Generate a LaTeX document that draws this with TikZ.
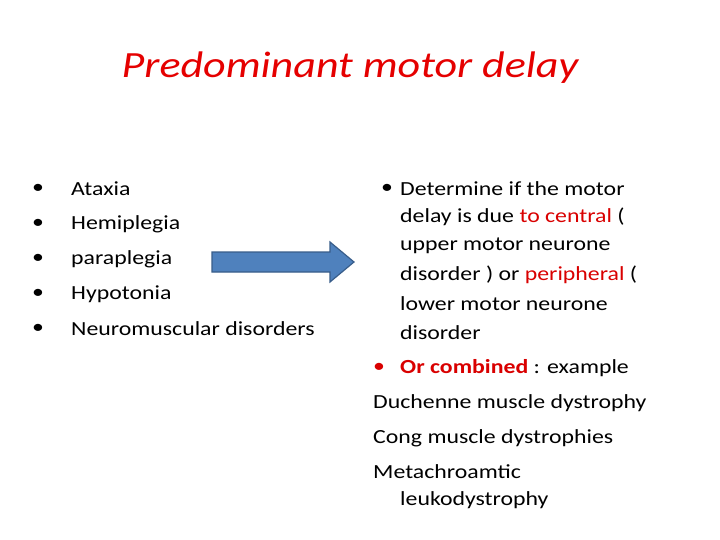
\documentclass[tikz,border=0pt]{standalone}
\usepackage{fontspec}
\setmainfont{Carlito}[FakeStretch=1.19]
\begin{document}
\begin{tikzpicture}[x=1pt,y=-1pt,
  txt/.style={anchor=west,inner sep=0pt,font=\fontsize{20}{24}\selectfont},
  red/.style={text=red!85!black}]
\useasboundingbox[fill=white] (0,0) rectangle (720,540);
\node[anchor=center,text=red!90!black,font=\fontsize{37}{44}\selectfont\itshape] (title) at (350,68) {Predominant motor delay};
\foreach \t/\y [count=\i] in {Ataxia/189,Hemiplegia/224,paraplegia/259,Hypotonia/294,Neuromuscular disorders/329}{
  \node[txt] (b\i) at (32,\y) {•};
  \node[txt] (l\i) at (71,\y) {\t};
}
\draw[fill={rgb,255:red,79;green,129;blue,189},draw={rgb,255:red,56;green,93;blue,138},line width=1.2pt]
  (212,252) -- (330,252) -- (330,242) -- (354,262) -- (330,282) -- (330,272) -- (212,272) -- cycle;
\node[txt] (rb) at (381,189) {•};
\node[txt] (r1) at (400,189) {Determine if the motor};
\node[txt] (r2) at (400,217) {delay is due \textcolor{red!85!black}{to central} (};
\node[txt] (r3) at (400,246) {upper motor neurone};
\node[txt] (r4) at (400,275) {disorder ) or \textcolor{red!85!black}{peripheral} (};
\node[txt] (r5) at (400,304) {lower motor neurone};
\node[txt] (r6) at (400,333) {disorder};
\node[txt,red] (rb2) at (373,368) {•};
\node[txt] (r7) at (400,368) {\textcolor{red!85!black}{\bfseries Or combined} : example};
\node[txt] (r8) at (373,403) {Duchenne muscle dystrophy};
\node[txt] (r9) at (373,438) {Cong muscle dystrophies};
\node[txt] (r10) at (373,472) {Metachroamtic};
\node[txt] (r11) at (400,500) {leukodystrophy};
\end{tikzpicture}
\end{document}
